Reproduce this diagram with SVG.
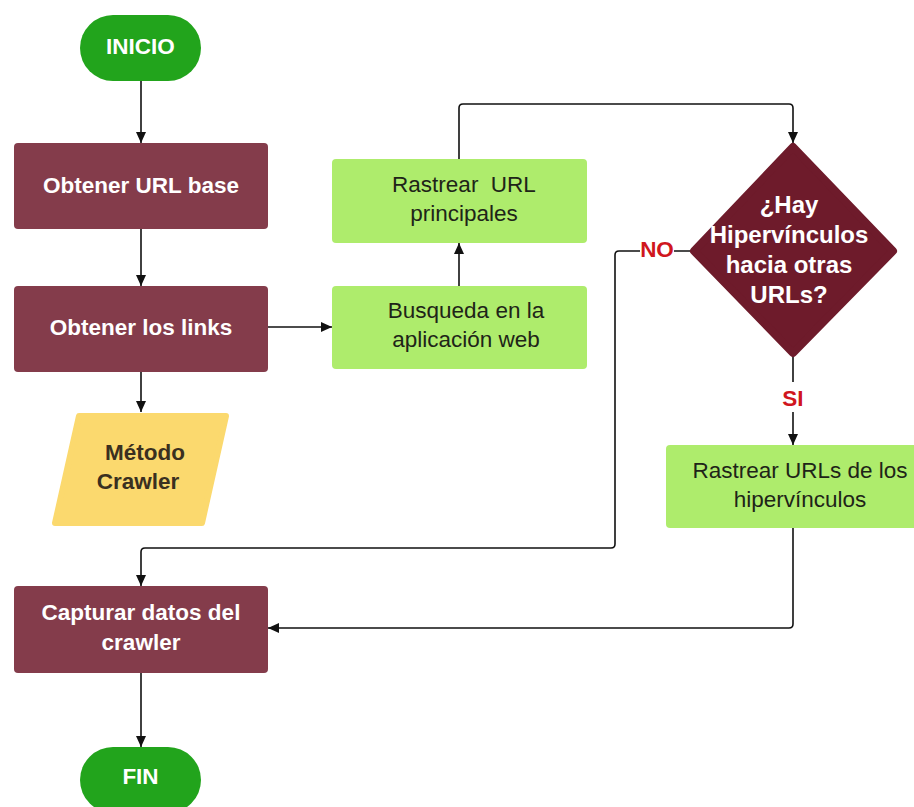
<svg xmlns="http://www.w3.org/2000/svg" width="914" height="807" viewBox="0 0 914 807">
  <style>
    .term { fill: #22a41c; }
    .proc { fill: #843c4b; }
    .task { fill: #aeec6c; }
    .data { fill: #fbd96e; stroke: #fbd96e; stroke-width: 6; stroke-linejoin: round; }
    .dec { fill: #6e1b2b; stroke: #6e1b2b; stroke-width: 8; stroke-linejoin: round; }
    .wb { font-family: "Liberation Sans", Arial, sans-serif; font-weight: bold; font-size: 22.5px; fill: #ffffff; text-anchor: middle; }
    .wb.big { font-size: 24px; }
    .dk { font-family: "Liberation Sans", Arial, sans-serif; font-size: 22.5px; fill: #1e2418; text-anchor: middle; white-space: pre; }
    .yl { font-family: "Liberation Sans", Arial, sans-serif; font-weight: bold; font-size: 22.5px; fill: #3a3020; text-anchor: middle; }
    .lbl { font-family: "Liberation Sans", Arial, sans-serif; font-weight: bold; font-size: 22.5px; fill: #d0161e; text-anchor: middle; }
    .edge { fill: none; stroke: #111111; stroke-width: 1.6; }
  </style>
  <defs>
    <marker id="arrow" markerUnits="userSpaceOnUse" markerWidth="12" markerHeight="10" refX="11" refY="5" orient="auto">
      <path d="M0,0 L11,5 L0,10 z" fill="#111111"/>
    </marker>
  </defs>

  <rect width="914" height="807" fill="#ffffff"/>

  <g id="connectors">
    <path class="edge" d="M141,81 V143" marker-end="url(#arrow)"/>
    <path class="edge" d="M141,229 V286" marker-end="url(#arrow)"/>
    <path class="edge" d="M141,372 V412" marker-end="url(#arrow)"/>
    <path class="edge" d="M268,327 H332" marker-end="url(#arrow)"/>
    <path class="edge" d="M459,286 V243" marker-end="url(#arrow)"/>
    <path class="edge" d="M459,159 V108 Q459,104 463,104 H789 Q793,104 793,108 V143" marker-end="url(#arrow)"/>
    <path class="edge" d="M690,251 H619 Q615,251 615,255 V544 Q615,548 611,548 H145 Q141,548 141,552 V586" marker-end="url(#arrow)"/>
    <path class="edge" d="M793,357 V445" marker-end="url(#arrow)"/>
    <path class="edge" d="M793,528 V624 Q793,628 789,628 H268" marker-end="url(#arrow)"/>
    <path class="edge" d="M141,673 V747" marker-end="url(#arrow)"/>
    <rect x="640" y="236" width="34" height="28" fill="#ffffff"/>
    <text class="lbl" x="657" y="257">NO</text>
    <rect x="778" y="382" width="30" height="30" fill="#ffffff"/>
    <text class="lbl" x="793" y="406">SI</text>
  </g>

  <g id="inicio">
    <rect class="term" x="80" y="15" width="121" height="66" rx="33"/>
    <text class="wb" x="140.5" y="54">INICIO</text>
  </g>

  <g id="obtener-url-base">
    <rect class="proc" x="14" y="143" width="254" height="86" rx="4"/>
    <text class="wb" x="141" y="193">Obtener URL base</text>
  </g>

  <g id="obtener-links">
    <rect class="proc" x="14" y="286" width="254" height="86" rx="4"/>
    <text class="wb" x="141" y="335">Obtener los links</text>
  </g>

  <g id="metodo-crawler">
    <polygon class="data" points="79,416 226,416 202,523 55,523"/>
    <text class="yl" x="145" y="460">Método</text>
    <text class="yl" x="138" y="489">Crawler</text>
  </g>

  <g id="rastrear-url-principales">
    <rect class="task" x="332" y="159" width="255" height="84" rx="4"/>
    <text class="dk" x="464" y="192" xml:space="preserve">Rastrear  URL</text>
    <text class="dk" x="464" y="221">principales</text>
  </g>

  <g id="busqueda">
    <rect class="task" x="332" y="286" width="255" height="83" rx="4"/>
    <text class="dk" x="466" y="318">Busqueda en la</text>
    <text class="dk" x="466" y="347">aplicación web</text>
  </g>

  <g id="hay-hipervinculos">
    <polygon class="dec" points="793,147 893,251 793,353 694,251"/>
    <text class="wb big" x="789" y="213">¿Hay</text>
    <text class="wb big" x="789" y="243">Hipervínculos</text>
    <text class="wb big" x="789" y="273">hacia otras</text>
    <text class="wb big" x="789" y="303">URLs?</text>
  </g>

  <g id="rastrear-hipervinculos">
    <rect class="task" x="666" y="445" width="268" height="83" rx="4"/>
    <text class="dk" x="800" y="478">Rastrear URLs de los</text>
    <text class="dk" x="800" y="507">hipervínculos</text>
  </g>

  <g id="capturar-datos">
    <rect class="proc" x="14" y="586" width="254" height="87" rx="4"/>
    <text class="wb" x="141" y="620">Capturar datos del</text>
    <text class="wb" x="141" y="650">crawler</text>
  </g>

  <g id="fin">
    <rect class="term" x="80" y="747" width="121" height="66" rx="33"/>
    <text class="wb" x="140.5" y="784">FIN</text>
  </g>
</svg>
